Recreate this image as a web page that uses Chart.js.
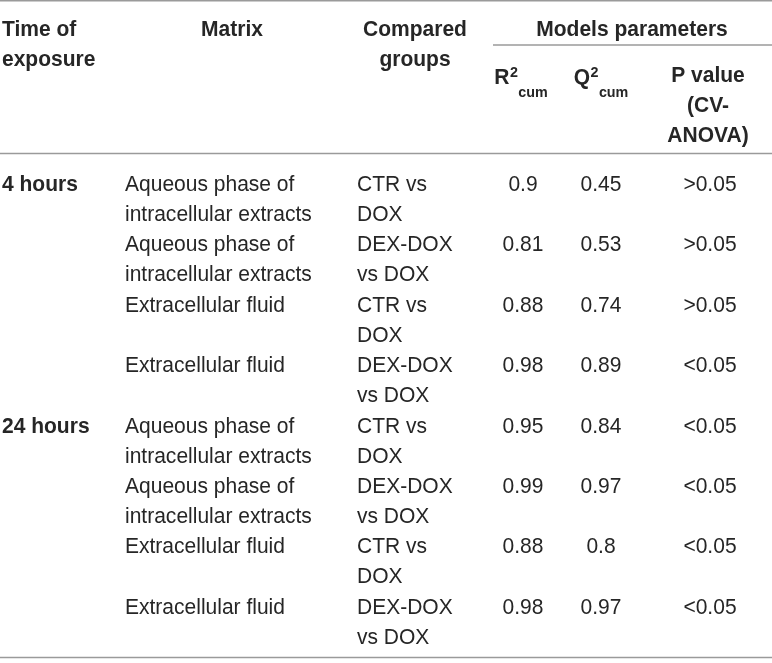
<!DOCTYPE html>
<html>
<head>
    <title>Models parameters table</title>
    <style>
        body, html {
            height: 100%;
            margin: 0;
            overflow: hidden;
            background-color: #ffffff;
        }
        #wrap {
            width: 772px;
            height: 663px;
        }
    </style>
</head>
<body>
    <div id="wrap"><canvas id="myChart"></canvas></div>
    <script src="https://cdn.jsdelivr.net/npm/chart.js"></script>
    <script>
        // table content
        const headerTop = [['Time of', 'exposure'], ['Matrix'], ['Compared', 'groups']];
        const groupHeader = 'Models parameters';
        const subHeaders = [
            { base: 'R', sup: '2', sub: 'cum' },
            { base: 'Q', sup: '2', sub: 'cum' },
            ['P value', '(CV-', 'ANOVA)']
        ];
        const timesOfExposure = ['4 hours', '', '', '', '24 hours', '', '', ''];
        const matrices = [
            ['Aqueous phase of', 'intracellular extracts'],
            ['Aqueous phase of', 'intracellular extracts'],
            ['Extracellular fluid'],
            ['Extracellular fluid'],
            ['Aqueous phase of', 'intracellular extracts'],
            ['Aqueous phase of', 'intracellular extracts'],
            ['Extracellular fluid'],
            ['Extracellular fluid']
        ];
        const comparedGroups = [
            ['CTR vs', 'DOX'],
            ['DEX-DOX', 'vs DOX'],
            ['CTR vs', 'DOX'],
            ['DEX-DOX', 'vs DOX'],
            ['CTR vs', 'DOX'],
            ['DEX-DOX', 'vs DOX'],
            ['CTR vs', 'DOX'],
            ['DEX-DOX', 'vs DOX']
        ];
        const r2cum = [0.9, 0.81, 0.88, 0.98, 0.95, 0.99, 0.88, 0.98];
        const q2cum = [0.45, 0.53, 0.74, 0.89, 0.84, 0.97, 0.8, 0.97];
        const pValues = ['>0.05', '>0.05', '>0.05', '<0.05', '<0.05', '<0.05', '<0.05', '<0.05'];

        // layout (scale units = pixels of the 772x663 page)
        const W = 772, H = 663;
        const LINE_H = 30;
        const ROW_TOP = 185, ROW_PITCH = 60.4;
        const HEAD_Y = 29.5, SUB_Y = 76;
        const FONT = '"Liberation Sans", Arial, Helvetica, sans-serif';
        const FONT_PX = 22;
        const SQUEEZE = 0.955;   // the original face is a bit narrower than Arial
        const INK = '#262626';
        const RULE = '#9a9a9a';

        const rowY = i => ROW_TOP + i * ROW_PITCH;

        function textSet(x, ys, texts, align, bold) {
            return {
                type: 'scatter',
                data: ys.map(y => ({ x: x, y: y })),
                cellText: texts,
                align: align,
                bold: bold,
                pointRadius: 0,
                showLine: false
            };
        }

        function rule(x0, x1, y) {
            return {
                type: 'line',
                data: [{ x: x0, y: y }, { x: x1, y: y }],
                borderColor: RULE,
                borderWidth: 1.5,
                pointRadius: 0,
                fill: false
            };
        }

        const rowsY = r2cum.map((v, i) => rowY(i));

        const datasets = [
            rule(0, W, 0.8),
            rule(493, W, 45),
            rule(0, W, 153.5),
            rule(0, W, 657.5),
            textSet(2, [HEAD_Y], [headerTop[0]], 'left', true),
            textSet(232, [HEAD_Y], [headerTop[1]], 'center', true),
            textSet(415, [HEAD_Y], [headerTop[2]], 'center', true),
            textSet(632, [HEAD_Y], [groupHeader], 'center', true),
            textSet(521, [SUB_Y], [subHeaders[0]], 'center', true),
            textSet(601, [SUB_Y], [subHeaders[1]], 'center', true),
            textSet(708, [SUB_Y], [subHeaders[2]], 'center', true),
            textSet(2, rowsY, timesOfExposure, 'left', true),
            textSet(125, rowsY, matrices, 'left', false),
            textSet(357, rowsY, comparedGroups, 'left', false),
            textSet(523, rowsY, r2cum.map(String), 'center', false),
            textSet(601, rowsY, q2cum.map(String), 'center', false),
            textSet(710, rowsY, pValues, 'center', false)
        ];

        const tablePlugin = {
            id: 'tableText',
            afterDatasetsDraw(chart) {
                const ctx = chart.ctx;
                const yScale = chart.scales.y;
                ctx.save();
                ctx.fillStyle = INK;
                chart.data.datasets.forEach((ds, di) => {
                    if (!ds.cellText) return;
                    const meta = chart.getDatasetMeta(di);
                    const weight = ds.bold ? 'bold ' : '';
                    meta.data.forEach((pt, i) => {
                        const cell = ds.cellText[i];
                        if (cell && cell.base) {
                            drawRich(ctx, cell, pt.x, pt.y, ds.align);
                            return;
                        }
                        [].concat(cell).forEach((line, k) => {
                            if (!line) return;
                            const y = yScale.getPixelForValue(ds.data[i].y + k * LINE_H);
                            ctx.save();
                            ctx.translate(pt.x, y);
                            ctx.scale(SQUEEZE, 1);
                            ctx.font = weight + FONT_PX + 'px ' + FONT;
                            ctx.textAlign = ds.align;
                            ctx.textBaseline = 'middle';
                            ctx.fillText(line, 0, 0);
                            ctx.restore();
                        });
                    });
                });
                ctx.restore();
            }
        };

        function drawRich(ctx, cell, x, y, align) {
            const big = 'bold ' + FONT_PX + 'px ' + FONT;
            const small = 'bold 15px ' + FONT;
            ctx.save();
            ctx.translate(x, y);
            ctx.scale(SQUEEZE, 1);
            ctx.textBaseline = 'alphabetic';
            ctx.textAlign = 'left';
            ctx.font = big;
            const wb = ctx.measureText(cell.base).width;
            ctx.font = small;
            const ws = ctx.measureText(cell.sup).width;
            const wu = ctx.measureText(cell.sub).width;
            const total = wb + ws + wu + 1;
            const x0 = align === 'center' ? -total / 2 : 0;
            const base = 7.8;
            ctx.font = big;
            ctx.fillText(cell.base, x0, base);
            ctx.font = small;
            ctx.fillText(cell.sup, x0 + wb + 0.5, base - 7);
            ctx.fillText(cell.sub, x0 + wb + ws + 1, base + 13.5);
            ctx.restore();
        }

        const ctx = document.getElementById('myChart').getContext('2d');
        const myChart = new Chart(ctx, {
            data: { datasets: datasets },
            options: {
                responsive: true,
                maintainAspectRatio: false,
                animation: false,
                events: [],
                layout: { padding: 0 },
                plugins: {
                    legend: { display: false },
                    tooltip: { enabled: false }
                },
                scales: {
                    x: { type: 'linear', display: false, min: 0, max: W },
                    y: { type: 'linear', display: false, min: 0, max: H, reverse: true }
                }
            },
            plugins: [tablePlugin]
        });
    </script>
</body>
</html>
